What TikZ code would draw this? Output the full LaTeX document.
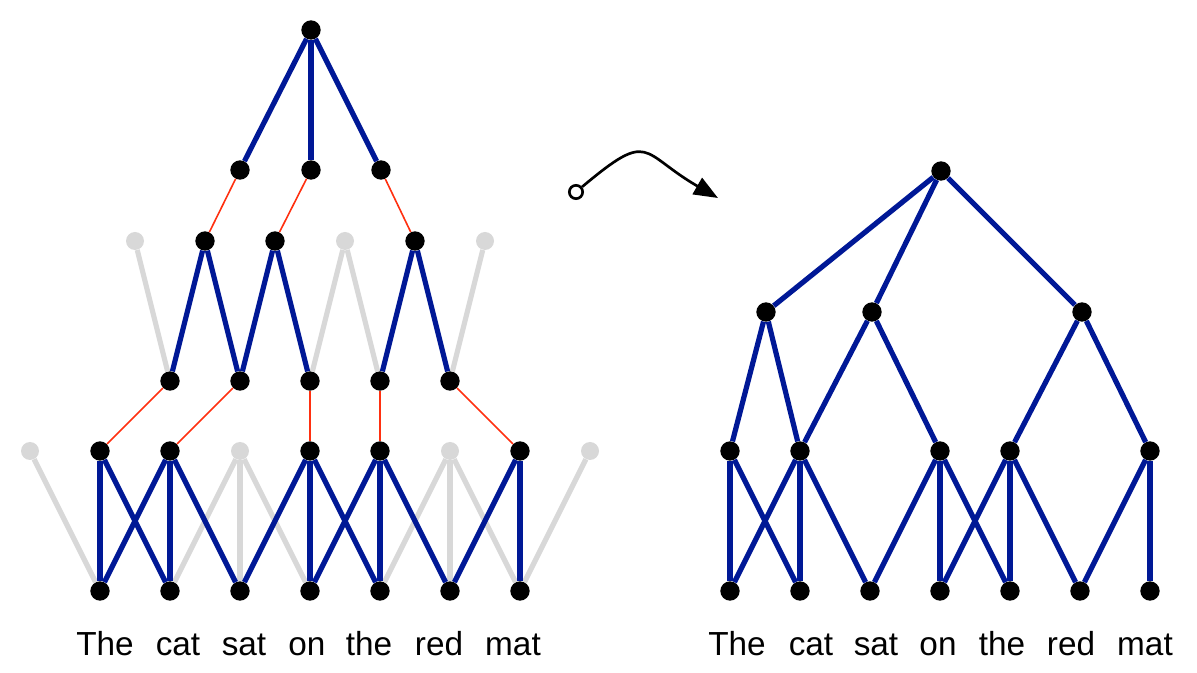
\documentclass[tikz,border=0pt]{standalone}
\usepackage{fontspec}
\setmainfont{Liberation Sans}
\usetikzlibrary{arrows.meta}
\definecolor{treeblue}{RGB}{0,24,150}
\definecolor{linkred}{RGB}{255,48,16}
\definecolor{ghostgray}{RGB}{216,216,216}
\tikzset{
  dot/.style={circle, fill=black, inner sep=0pt, minimum size=14.5pt},
  ghost/.style={circle, fill=ghostgray, inner sep=0pt, minimum size=13.5pt},
  arc/.style={treeblue, line width=3.9pt},
  faded/.style={ghostgray, line width=3.9pt},
  link/.style={linkred, line width=1.2pt},
  word/.style={anchor=base, inner sep=0pt, font=\fontsize{25}{30}\selectfont},
  hole/.style={circle, draw, line width=2pt, fill=white, inner sep=0pt, minimum size=10pt},
}

\begin{document}
\begin{tikzpicture}[x=0.75pt, y=-0.75pt]
  \useasboundingbox (0,0) rectangle (1197,673);

  % left chart
  \foreach \i in {1,...,7} \node[dot] (lw\i) at ({30+70*\i},591) {};
  \foreach \i in {0,3,6,8} \node[ghost] (la\i) at ({30+70*\i},451) {};
  \foreach \i in {1,2,4,5,7} \node[dot] (la\i) at ({30+70*\i},451) {};
  \foreach \i in {1,...,5} \node[dot] (lb\i) at ({100+70*\i},381) {};
  \foreach \i in {1,4,6} \node[ghost] (lc\i) at ({65+70*\i},241) {};
  \foreach \i in {2,3,5} \node[dot] (lc\i) at ({65+70*\i},241) {};
  \node[dot] (ld1) at (240,170) {};
  \node[dot] (ld2) at (311,170) {};
  \node[dot] (ld3) at (381,170) {};
  \node[dot] (lr) at (311,30) {};

  \foreach \a/\b in {la0/lw1, la3/lw2, la3/lw3, la3/lw4, la6/lw5, la6/lw6, la6/lw7, la8/lw7,
                     lc1/lb1, lc4/lb3, lc4/lb4, lc6/lb5}
    \draw[faded] (\a) -- (\b);
  \foreach \a/\b in {la1/lw1, la1/lw2, la2/lw1, la2/lw2, la2/lw3, la4/lw3, la4/lw4, la4/lw5,
                     la5/lw4, la5/lw5, la5/lw6, la7/lw6, la7/lw7,
                     lc2/lb1, lc2/lb2, lc3/lb2, lc3/lb3, lc5/lb4, lc5/lb5,
                     lr/ld1, lr/ld2, lr/ld3}
    \draw[arc] (\a) -- (\b);
  \foreach \a/\b in {lb1/la1, lb2/la2, lb3/la4, lb4/la5, lb5/la7, ld1/lc2, ld2/lc3, ld3/lc5}
    \draw[link] (\a) -- (\b);

  \foreach \t/\x [count=\i] in {The/105, cat/178, sat/244, on/307, the/369, red/439, mat/513}
    \node[word] (lt\i) at (\x,656) {\t};

  % right tree
  \foreach \i in {1,...,7} \node[dot] (rw\i) at ({660+70*\i},591) {};
  \foreach \i in {1,2,4,5,7} \node[dot] (ra\i) at ({660+70*\i},451) {};
  \node[dot] (rb1) at (766,312) {};
  \node[dot] (rb2) at (872,312) {};
  \node[dot] (rb3) at (1082,312) {};
  \node[dot] (rr) at (941,171) {};

  \foreach \a/\b in {ra1/rw1, ra1/rw2, ra2/rw1, ra2/rw2, ra2/rw3, ra4/rw3, ra4/rw4, ra4/rw5,
                     ra5/rw4, ra5/rw5, ra5/rw6, ra7/rw6, ra7/rw7,
                     rb1/ra1, rb1/ra2, rb2/ra2, rb2/ra4, rb3/ra5, rb3/ra7,
                     rr/rb1, rr/rb2, rr/rb3}
    \draw[arc] (\a) -- (\b);

  \foreach \t/\x [count=\i] in {The/737, cat/811, sat/876, on/938, the/1002, red/1071, mat/1145}
    \node[word] (rt\i) at (\x,656) {\t};

  % transform arrow
  \node[hole] (src) at (576,192) {};
  \coordinate (dst) at (718,198);
  \draw[line width=2pt, -{Triangle[length=18pt, width=14pt]}]
    (src) to[out=40, in=150, looseness=1.7] (dst);
\end{tikzpicture}
\end{document}
